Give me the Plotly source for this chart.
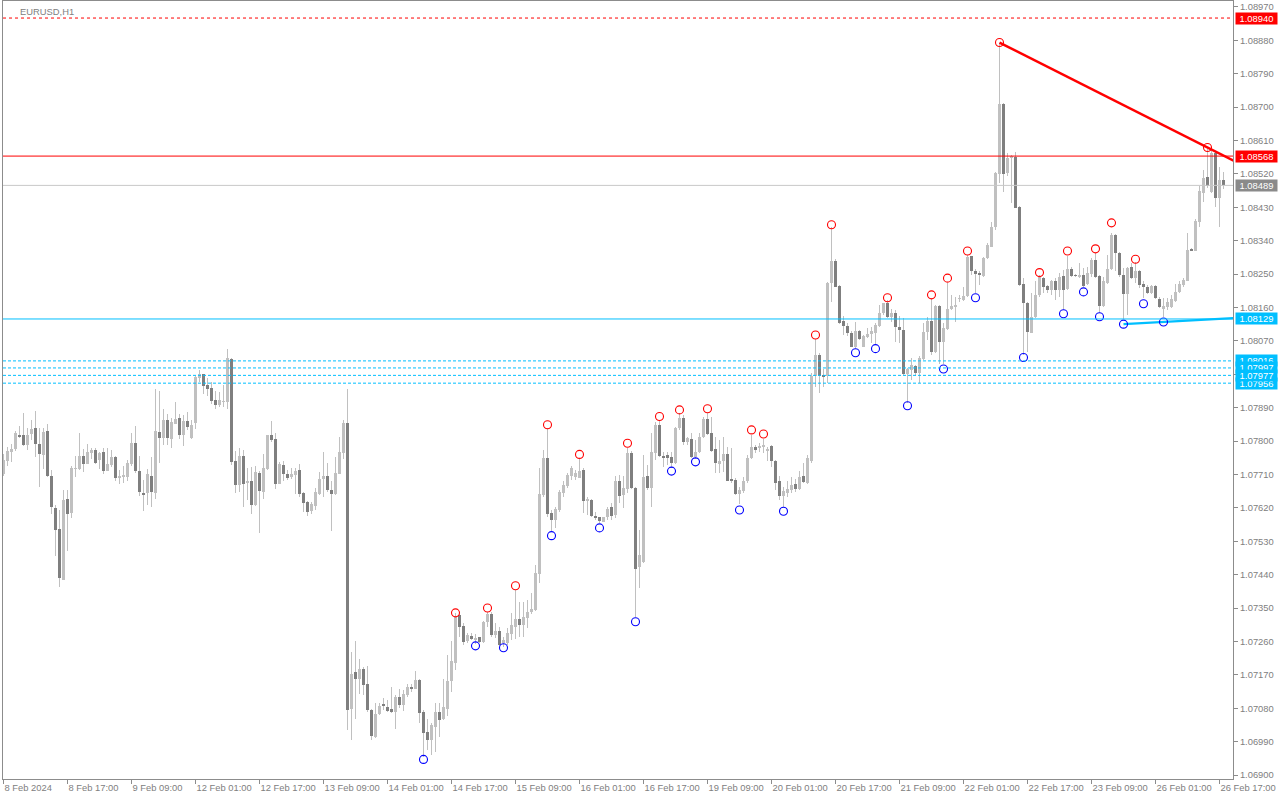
import plotly.graph_objects as go

# ---------------- data ----------------
x_tick_labels = ["8 Feb 2024", "8 Feb 17:00", "9 Feb 09:00", "12 Feb 01:00", "12 Feb 17:00",
                 "13 Feb 09:00", "14 Feb 01:00", "14 Feb 17:00", "15 Feb 09:00", "16 Feb 01:00",
                 "16 Feb 17:00", "19 Feb 09:00", "20 Feb 01:00", "20 Feb 17:00", "21 Feb 09:00",
                 "22 Feb 01:00", "22 Feb 17:00", "23 Feb 09:00", "26 Feb 01:00", "26 Feb 17:00"]

y_tick_values = [1.06900, 1.06990, 1.07080, 1.07170, 1.07260, 1.07350, 1.07440, 1.07530,
                 1.07620, 1.07710, 1.07800, 1.07890, 1.07980, 1.08070, 1.08160, 1.08250,
                 1.08340, 1.08430, 1.08520, 1.08610, 1.08700, 1.08790, 1.08880, 1.08970]
y_tick_labels = ["1.06900", "1.06990", "1.07080", "1.07170", "1.07260", "1.07350", "1.07440", "1.07530",
                 "1.07620", "1.07710", "1.07800", "1.07890", "1.07980", "1.08070", "1.08160", "1.08250",
                 "1.08340", "1.08430", "1.08520", "1.08610", "1.08700", "1.08790", "1.08880", "1.08970"]

opens = [
1.07712, 1.07746, 1.07770, 1.07779, 1.07817, 1.07815, 1.07789, 1.07818, 1.07834, 1.07791,
1.07762, 1.07826, 1.07705, 1.07620, 1.07562, 1.07426, 1.07643, 1.07606, 1.07725, 1.07725,
1.07759, 1.07738, 1.07770, 1.07775, 1.07750, 1.07770, 1.07719, 1.07736, 1.07756, 1.07703,
1.07704, 1.07703, 1.07737, 1.07795, 1.07718, 1.07659, 1.07660, 1.07707, 1.07660, 1.07824,
1.07808, 1.07856, 1.07806, 1.07846, 1.07861, 1.07816, 1.07853, 1.07808, 1.07849, 1.07971,
1.07980, 1.07950, 1.07942, 1.07910, 1.07897, 1.07906, 1.07906, 1.08021, 1.07746, 1.07681,
1.07759, 1.07686, 1.07691, 1.07627, 1.07713, 1.07662, 1.07725, 1.07815, 1.07806, 1.07683,
1.07735, 1.07710, 1.07705, 1.07708, 1.07721, 1.07659, 1.07635, 1.07612, 1.07626, 1.07657,
1.07698, 1.07706, 1.07668, 1.07657, 1.07712, 1.07769, 1.07850, 1.07078, 1.07178, 1.07159,
1.07186, 1.07145, 1.07075, 1.07003, 1.07064, 1.07091, 1.07083, 1.07078, 1.07071, 1.07110,
1.07089, 1.07116, 1.07138, 1.07132, 1.07156, 1.07070, 1.07015, 1.06994, 1.07030, 1.07070,
1.07051, 1.07078, 1.07152, 1.07202, 1.07331, 1.07302, 1.07261, 1.07275, 1.07264, 1.07271,
1.07258, 1.07312, 1.07334, 1.07276, 1.07288, 1.07255, 1.07255, 1.07280, 1.07300, 1.07321,
1.07303, 1.07322, 1.07338, 1.07345, 1.07442, 1.07655, 1.07753, 1.07605, 1.07587, 1.07614,
1.07659, 1.07679, 1.07706, 1.07704, 1.07701, 1.07722, 1.07639, 1.07641, 1.07598, 1.07594,
1.07582, 1.07594, 1.07621, 1.07601, 1.07693, 1.07655, 1.07671, 1.07769, 1.07674, 1.07461,
1.07473, 1.07706, 1.07674, 1.07769, 1.07844, 1.07760, 1.07762, 1.07756, 1.07742, 1.07834,
1.07862, 1.07797, 1.07806, 1.07758, 1.07770, 1.07812, 1.07859, 1.07823, 1.07779, 1.07738,
1.07746, 1.07765, 1.07698, 1.07695, 1.07657, 1.07666, 1.07691, 1.07753, 1.07783, 1.07782,
1.07785, 1.07774, 1.07787, 1.07747, 1.07692, 1.07652, 1.07661, 1.07668, 1.07684, 1.07672,
1.07706, 1.07688, 1.07747, 1.07974, 1.08032, 1.07976, 1.07975, 1.08225, 1.08284, 1.08218,
1.08124, 1.08110, 1.08092, 1.08054, 1.08097, 1.08054, 1.08083, 1.08088, 1.08092, 1.08111,
1.08144, 1.08171, 1.08134, 1.08144, 1.08108, 1.08099, 1.07981, 1.07992, 1.08002, 1.07983,
1.08021, 1.08095, 1.08124, 1.08041, 1.08164, 1.08068, 1.08102, 1.08155, 1.08162, 1.08184,
1.08180, 1.08192, 1.08299, 1.08259, 1.08252, 1.08245, 1.08292, 1.08324, 1.08378, 1.08520,
1.08708, 1.08522, 1.08562, 1.08566, 1.08432, 1.08223, 1.08173, 1.08092, 1.08133, 1.08194,
1.08239, 1.08218, 1.08207, 1.08230, 1.08207, 1.08245, 1.08209, 1.08263, 1.08247, 1.08243,
1.08247, 1.08223, 1.08250, 1.08288, 1.08245, 1.08165, 1.08227, 1.08263, 1.08355, 1.08308,
1.08248, 1.08196, 1.08268, 1.08239, 1.08257, 1.08223, 1.08216, 1.08200, 1.08218, 1.08183,
1.08157, 1.08160, 1.08162, 1.08178, 1.08203, 1.08221, 1.08232, 1.08315, 1.08313, 1.08391,
1.08469, 1.08511, 1.08472, 1.08575, 1.08456, 1.08504]

highs = [
1.07766, 1.07784, 1.07793, 1.07827, 1.07840, 1.07876, 1.07834, 1.07856, 1.07881, 1.07834,
1.07836, 1.07847, 1.07723, 1.07629, 1.07613, 1.07667, 1.07667, 1.07732, 1.07759, 1.07822,
1.07779, 1.07791, 1.07780, 1.07780, 1.07770, 1.07781, 1.07780, 1.07775, 1.07759, 1.07721,
1.07732, 1.07748, 1.07822, 1.07840, 1.07761, 1.07694, 1.07725, 1.07757, 1.07941, 1.07935,
1.07887, 1.07872, 1.07861, 1.07906, 1.07872, 1.07870, 1.07878, 1.07856, 1.07975, 1.07991,
1.07982, 1.07971, 1.07960, 1.07935, 1.07933, 1.07951, 1.08047, 1.08023, 1.07773, 1.07780,
1.07775, 1.07727, 1.07730, 1.07732, 1.07719, 1.07764, 1.07815, 1.07854, 1.07822, 1.07743,
1.07746, 1.07721, 1.07727, 1.07727, 1.07737, 1.07662, 1.07638, 1.07637, 1.07673, 1.07717,
1.07771, 1.07740, 1.07691, 1.07756, 1.07812, 1.07858, 1.07940, 1.07232, 1.07261, 1.07213,
1.07192, 1.07195, 1.07077, 1.07095, 1.07095, 1.07107, 1.07102, 1.07138, 1.07116, 1.07133,
1.07129, 1.07145, 1.07144, 1.07180, 1.07158, 1.07075, 1.07051, 1.07039, 1.07095, 1.07095,
1.07159, 1.07223, 1.07260, 1.07336, 1.07333, 1.07309, 1.07284, 1.07284, 1.07280, 1.07273,
1.07316, 1.07340, 1.07338, 1.07309, 1.07300, 1.07273, 1.07295, 1.07336, 1.07399, 1.07367,
1.07365, 1.07372, 1.07391, 1.07466, 1.07727, 1.07776, 1.07834, 1.07614, 1.07623, 1.07668,
1.07691, 1.07713, 1.07733, 1.07722, 1.07751, 1.07727, 1.07650, 1.07643, 1.07610, 1.07596,
1.07596, 1.07621, 1.07632, 1.07706, 1.07709, 1.07706, 1.07780, 1.07774, 1.07677, 1.07560,
1.07762, 1.07735, 1.07821, 1.07851, 1.07857, 1.07771, 1.07771, 1.07771, 1.07839, 1.07875,
1.07870, 1.07812, 1.07821, 1.07803, 1.07823, 1.07866, 1.07876, 1.07866, 1.07812, 1.07803,
1.07812, 1.07784, 1.07780, 1.07700, 1.07677, 1.07702, 1.07762, 1.07816, 1.07789, 1.07794,
1.07805, 1.07785, 1.07789, 1.07749, 1.07706, 1.07677, 1.07693, 1.07704, 1.07697, 1.07718,
1.07740, 1.07762, 1.07983, 1.08074, 1.08038, 1.07993, 1.08229, 1.08376, 1.08290, 1.08221,
1.08137, 1.08119, 1.08097, 1.08120, 1.08099, 1.08086, 1.08104, 1.08108, 1.08117, 1.08167,
1.08173, 1.08180, 1.08155, 1.08153, 1.08137, 1.08131, 1.07996, 1.08023, 1.08005, 1.08028,
1.08117, 1.08135, 1.08185, 1.08167, 1.08167, 1.08117, 1.08225, 1.08194, 1.08189, 1.08194,
1.08216, 1.08301, 1.08299, 1.08263, 1.08257, 1.08297, 1.08333, 1.08391, 1.08526, 1.08872,
1.08710, 1.08575, 1.08571, 1.08580, 1.08433, 1.08239, 1.08176, 1.08198, 1.08230, 1.08248,
1.08241, 1.08221, 1.08234, 1.08239, 1.08252, 1.08261, 1.08299, 1.08270, 1.08250, 1.08279,
1.08266, 1.08270, 1.08292, 1.08308, 1.08248, 1.08243, 1.08301, 1.08362, 1.08358, 1.08310,
1.08266, 1.08268, 1.08279, 1.08282, 1.08261, 1.08230, 1.08221, 1.08221, 1.08221, 1.08189,
1.08185, 1.08185, 1.08194, 1.08223, 1.08230, 1.08239, 1.08362, 1.08319, 1.08398, 1.08487,
1.08530, 1.08588, 1.08583, 1.08579, 1.08538, 1.08526]

lows = [
1.07707, 1.07734, 1.07743, 1.07773, 1.07808, 1.07786, 1.07775, 1.07802, 1.07757, 1.07676,
1.07725, 1.07703, 1.07604, 1.07489, 1.07406, 1.07426, 1.07505, 1.07593, 1.07703, 1.07723,
1.07717, 1.07737, 1.07752, 1.07739, 1.07726, 1.07712, 1.07719, 1.07730, 1.07692, 1.07685,
1.07687, 1.07692, 1.07732, 1.07714, 1.07652, 1.07611, 1.07627, 1.07622, 1.07644, 1.07741,
1.07789, 1.07789, 1.07781, 1.07846, 1.07806, 1.07787, 1.07829, 1.07806, 1.07833, 1.07960,
1.07928, 1.07922, 1.07901, 1.07887, 1.07892, 1.07892, 1.07887, 1.07736, 1.07660, 1.07662,
1.07622, 1.07640, 1.07604, 1.07624, 1.07552, 1.07643, 1.07721, 1.07797, 1.07670, 1.07683,
1.07692, 1.07694, 1.07697, 1.07658, 1.07649, 1.07610, 1.07597, 1.07603, 1.07614, 1.07655,
1.07650, 1.07664, 1.07558, 1.07655, 1.07711, 1.07752, 1.07021, 1.06994, 1.07051, 1.07117,
1.07116, 1.07071, 1.06994, 1.06999, 1.07062, 1.07075, 1.07071, 1.07066, 1.07024, 1.07080,
1.07073, 1.07111, 1.07125, 1.07131, 1.07041, 1.06949, 1.06967, 1.06954, 1.06963, 1.07003,
1.07048, 1.07059, 1.07125, 1.07183, 1.07273, 1.07250, 1.07256, 1.07264, 1.07253, 1.07257,
1.07256, 1.07300, 1.07273, 1.07268, 1.07249, 1.07246, 1.07250, 1.07264, 1.07266, 1.07273,
1.07273, 1.07295, 1.07334, 1.07343, 1.07417, 1.07650, 1.07596, 1.07556, 1.07565, 1.07610,
1.07650, 1.07673, 1.07695, 1.07695, 1.07700, 1.07605, 1.07601, 1.07594, 1.07587, 1.07578,
1.07582, 1.07587, 1.07587, 1.07592, 1.07632, 1.07619, 1.07659, 1.07672, 1.07327, 1.07403,
1.07471, 1.07668, 1.07623, 1.07749, 1.07758, 1.07731, 1.07735, 1.07728, 1.07738, 1.07830,
1.07789, 1.07789, 1.07754, 1.07751, 1.07767, 1.07807, 1.07816, 1.07771, 1.07715, 1.07715,
1.07717, 1.07691, 1.07686, 1.07655, 1.07630, 1.07659, 1.07688, 1.07751, 1.07767, 1.07771,
1.07767, 1.07745, 1.07731, 1.07668, 1.07641, 1.07623, 1.07648, 1.07659, 1.07664, 1.07668,
1.07686, 1.07684, 1.07740, 1.07947, 1.07929, 1.07947, 1.07957, 1.08176, 1.08214, 1.08115,
1.08086, 1.08083, 1.08053, 1.08048, 1.08072, 1.08053, 1.08079, 1.08063, 1.08058, 1.08108,
1.08140, 1.08131, 1.08122, 1.08068, 1.08063, 1.07978, 1.07903, 1.07965, 1.07974, 1.07956,
1.08018, 1.08072, 1.08032, 1.08036, 1.08009, 1.08007, 1.08099, 1.08153, 1.08122, 1.08176,
1.08178, 1.08189, 1.08248, 1.08198, 1.08221, 1.08243, 1.08290, 1.08322, 1.08369, 1.08495,
1.08472, 1.08513, 1.08441, 1.08427, 1.08218, 1.08032, 1.08041, 1.08090, 1.08131, 1.08189,
1.08198, 1.08198, 1.08194, 1.08180, 1.08189, 1.08153, 1.08207, 1.08241, 1.08243, 1.08239,
1.08216, 1.08220, 1.08243, 1.08239, 1.08144, 1.08162, 1.08223, 1.08261, 1.08259, 1.08243,
1.08128, 1.08140, 1.08236, 1.08225, 1.08212, 1.08185, 1.08196, 1.08196, 1.08182, 1.08158,
1.08135, 1.08153, 1.08158, 1.08176, 1.08198, 1.08216, 1.08230, 1.08311, 1.08311, 1.08378,
1.08445, 1.08481, 1.08468, 1.08432, 1.08378, 1.08478]

closes = [
1.07748, 1.07772, 1.07778, 1.07822, 1.07813, 1.07789, 1.07817, 1.07832, 1.07792, 1.07765,
1.07824, 1.07707, 1.07622, 1.07559, 1.07430, 1.07640, 1.07603, 1.07727, 1.07726, 1.07759,
1.07738, 1.07770, 1.07775, 1.07741, 1.07768, 1.07719, 1.07737, 1.07756, 1.07700, 1.07705,
1.07706, 1.07740, 1.07795, 1.07719, 1.07662, 1.07657, 1.07710, 1.07662, 1.07826, 1.07809,
1.07856, 1.07808, 1.07851, 1.07859, 1.07816, 1.07853, 1.07838, 1.07843, 1.07973, 1.07980,
1.07949, 1.07940, 1.07908, 1.07897, 1.07910, 1.07907, 1.08023, 1.07744, 1.07681, 1.07759,
1.07683, 1.07692, 1.07629, 1.07716, 1.07665, 1.07727, 1.07815, 1.07802, 1.07683, 1.07737,
1.07710, 1.07700, 1.07710, 1.07718, 1.07658, 1.07632, 1.07608, 1.07630, 1.07663, 1.07698,
1.07706, 1.07668, 1.07657, 1.07714, 1.07771, 1.07850, 1.07075, 1.07172, 1.07159, 1.07186,
1.07143, 1.07075, 1.07006, 1.07064, 1.07087, 1.07087, 1.07072, 1.07070, 1.07111, 1.07089,
1.07119, 1.07137, 1.07132, 1.07156, 1.07068, 1.07014, 1.06994, 1.07035, 1.07070, 1.07048,
1.07082, 1.07153, 1.07207, 1.07327, 1.07300, 1.07259, 1.07277, 1.07267, 1.07269, 1.07259,
1.07312, 1.07334, 1.07276, 1.07288, 1.07250, 1.07264, 1.07282, 1.07304, 1.07320, 1.07303,
1.07327, 1.07340, 1.07347, 1.07444, 1.07657, 1.07753, 1.07603, 1.07587, 1.07617, 1.07664,
1.07682, 1.07709, 1.07728, 1.07713, 1.07719, 1.07639, 1.07643, 1.07598, 1.07592, 1.07585,
1.07594, 1.07618, 1.07599, 1.07693, 1.07653, 1.07674, 1.07769, 1.07674, 1.07455, 1.07493,
1.07702, 1.07674, 1.07771, 1.07844, 1.07761, 1.07755, 1.07755, 1.07742, 1.07835, 1.07862,
1.07798, 1.07807, 1.07758, 1.07771, 1.07812, 1.07859, 1.07818, 1.07773, 1.07740, 1.07747,
1.07765, 1.07693, 1.07693, 1.07656, 1.07668, 1.07693, 1.07753, 1.07783, 1.07778, 1.07788,
1.07789, 1.07776, 1.07747, 1.07688, 1.07652, 1.07665, 1.07670, 1.07682, 1.07672, 1.07704,
1.07690, 1.07753, 1.07974, 1.08032, 1.07975, 1.07975, 1.08227, 1.08284, 1.08216, 1.08119,
1.08110, 1.08092, 1.08054, 1.08097, 1.08074, 1.08083, 1.08088, 1.08097, 1.08113, 1.08144,
1.08171, 1.08133, 1.08144, 1.08108, 1.08099, 1.07982, 1.07993, 1.08005, 1.07983, 1.08023,
1.08095, 1.08124, 1.08041, 1.08164, 1.08068, 1.08104, 1.08155, 1.08164, 1.08167, 1.08185,
1.08192, 1.08297, 1.08259, 1.08250, 1.08250, 1.08294, 1.08328, 1.08378, 1.08522, 1.08708,
1.08520, 1.08562, 1.08568, 1.08429, 1.08221, 1.08173, 1.08095, 1.08135, 1.08194, 1.08241,
1.08216, 1.08207, 1.08230, 1.08207, 1.08243, 1.08207, 1.08263, 1.08245, 1.08246, 1.08247,
1.08218, 1.08252, 1.08288, 1.08243, 1.08165, 1.08230, 1.08263, 1.08355, 1.08308, 1.08248,
1.08196, 1.08266, 1.08239, 1.08257, 1.08221, 1.08214, 1.08200, 1.08218, 1.08185, 1.08160,
1.08164, 1.08176, 1.08182, 1.08203, 1.08223, 1.08234, 1.08315, 1.08313, 1.08394, 1.08475,
1.08508, 1.08487, 1.08575, 1.08456, 1.08504, 1.08489]

# fractal markers (bar index, price of the circle)
fractal_up_bars = [113, 121, 128, 136, 144, 156, 164, 169, 176, 187, 190, 203, 207, 221,
                   232, 236, 241, 249, 259, 266, 273, 277, 283, 301]
fractal_up_prices = [1.07337, 1.07350, 1.07410, 1.07844, 1.07764, 1.07794, 1.07866, 1.07884,
                     1.07887, 1.07830, 1.07819, 1.08086, 1.08383, 1.08186, 1.08194, 1.08239,
                     1.08312, 1.08874, 1.08254, 1.08312, 1.08318, 1.08388, 1.08290, 1.08591]
fractal_down_bars = [105, 118, 125, 137, 149, 158, 167, 173, 184, 195, 213, 218, 226, 235,
                     243, 255, 265, 270, 274, 280, 285, 290]
fractal_down_prices = [1.06942, 1.07248, 1.07243, 1.07545, 1.07566, 1.07313, 1.07719, 1.07744,
                       1.07614, 1.07611, 1.08038, 1.08049, 1.07895, 1.07994, 1.08186, 1.08025,
                       1.08143, 1.08202, 1.08135, 1.08115, 1.08170, 1.08121]

# horizontal price levels
level_prices = [1.08940, 1.08568, 1.08489, 1.08129, 1.08016, 1.07997, 1.07956, 1.07977]
level_texts = ["1.08940", "1.08568", "1.08489", "1.08129", "1.08016", "1.07997", "1.07956", "1.07977"]

# trend lines: anchored on two fractals each
resistance_anchor_bars = [249, 301]
support_anchor_bars = [280, 290]

# ---------------- styles ----------------
FONT = "Liberation Sans, Arial, sans-serif"
TXT = "#808080"
AXIS = "#8c8c8c"
BULL = "#c0c0c0"
BEAR = "#7f7f7f"
WICK = "#c0c0c0"
RED = "#ff0000"
CYAN = "#00bfff"
level_styles = [
    dict(color=RED, dash="3px,3px", bg=RED),
    dict(color=RED, dash="solid", bg=RED),
    dict(color="#c8c8c8", dash="solid", bg="#8a8a8a"),
    dict(color=CYAN, dash="solid", bg=CYAN),
    dict(color=CYAN, dash="3px,2px", bg=CYAN),
    dict(color=CYAN, dash="3px,2px", bg=CYAN),
    dict(color=CYAN, dash="3px,2px", bg=CYAN),
    dict(color=CYAN, dash="3px,2px", bg=CYAN),
]

n = len(opens)
assert len(highs) == n and len(lows) == n and len(closes) == n, (len(opens), len(highs), len(lows), len(closes))
idx = list(range(n))
X_MIN, X_MAX = -0.125, 307.375

wick_len = [h - l for h, l in zip(highs, lows)]
body_base = [min(o, c) for o, c in zip(opens, closes)]
body_len = [abs(c - o) for o, c in zip(opens, closes)]
body_col = [BULL if c >= o else BEAR for o, c in zip(opens, closes)]

fig = go.Figure()
fig.add_trace(go.Bar(x=idx, y=wick_len, base=lows, width=0.25,
                     marker=dict(color=WICK, line=dict(width=0)), hoverinfo="skip"))
fig.add_trace(go.Bar(x=idx, y=body_len, base=body_base, width=0.75,
                     marker=dict(color=body_col, line=dict(width=0)), hoverinfo="skip"))


def ray(bars, bar_list, price_list):
    b0, b1 = bars
    p0 = price_list[bar_list.index(b0)]
    p1 = price_list[bar_list.index(b1)]
    slope = (p1 - p0) / (b1 - b0)
    xe = X_MAX + 3
    return [b0, xe], [p0, p0 + slope * (xe - b0)]


rx, ry = ray(resistance_anchor_bars, fractal_up_bars, fractal_up_prices)
fig.add_trace(go.Scatter(x=rx, y=ry, mode="lines", line=dict(color=RED, width=2.5), hoverinfo="skip"))
sx, sy = ray(support_anchor_bars, fractal_down_bars, fractal_down_prices)
fig.add_trace(go.Scatter(x=sx, y=sy, mode="lines", line=dict(color=CYAN, width=2.2), hoverinfo="skip"))

fig.add_trace(go.Scatter(x=fractal_up_bars, y=fractal_up_prices, mode="markers",
                         marker=dict(symbol="circle-open", size=8, color=RED, line=dict(width=1.1)),
                         hoverinfo="skip"))
fig.add_trace(go.Scatter(x=fractal_down_bars, y=fractal_down_prices, mode="markers",
                         marker=dict(symbol="circle-open", size=8, color="#0000ff", line=dict(width=1.1)),
                         hoverinfo="skip"))

shapes = []
annotations = []
for price, text, st in zip(level_prices, level_texts, level_styles):
    shapes.append(dict(type="line", xref="paper", x0=0, x1=1, yref="y", y0=price, y1=price,
                       line=dict(color=st["color"], width=1, dash=st["dash"]), layer="above"))
    annotations.append(dict(xref="paper", x=1, xanchor="left", xshift=2, yref="y", y=price,
                            yanchor="middle", text=text, showarrow=False, bgcolor=st["bg"],
                            width=41, height=11, borderpad=0, align="center",
                            font=dict(family=FONT, size=9.4, color="white")))

annotations.append(dict(xref="paper", x=0, xanchor="left", xshift=15, yref="paper", y=1,
                        yanchor="top", yshift=-3, text="EURUSD,H1", showarrow=False,
                        font=dict(family=FONT, size=9.4, color=TXT)))

fig.update_layout(
    template="none",
    width=1280, height=800,
    margin=dict(l=3, r=47, t=1, b=21, pad=0),
    paper_bgcolor="white", plot_bgcolor="white",
    barmode="overlay", bargap=0, showlegend=False, hovermode=False,
    font=dict(family=FONT, size=9.4, color=TXT),
    shapes=shapes, annotations=annotations,
    xaxis=dict(range=[X_MIN, X_MAX], showgrid=False, zeroline=False, showline=True, mirror=True,
               linecolor=AXIS, linewidth=1, ticks="outside", ticklen=4, tickcolor=AXIS, tickwidth=1,
               tickvals=[16 * k for k in range(len(x_tick_labels))], ticktext=x_tick_labels,
               tickangle=0, ticklabelposition="outside right",
               tickfont=dict(family=FONT, size=9.4, color=TXT), fixedrange=True, automargin=False),
    yaxis=dict(side="right", range=[1.0688922, 1.0898593], showgrid=False, zeroline=False,
               showline=True, mirror=True, linecolor=AXIS, linewidth=1, ticks="outside", ticklen=4,
               tickcolor=AXIS, tickwidth=1, tickvals=y_tick_values, ticktext=y_tick_labels,
               tickfont=dict(family=FONT, size=9.4, color=TXT), fixedrange=True, automargin=False),
)

fig.write_html("out.html", config={"displayModeBar": False},
               post_script="document.body.style.margin='0';document.body.style.overflow='hidden';")
